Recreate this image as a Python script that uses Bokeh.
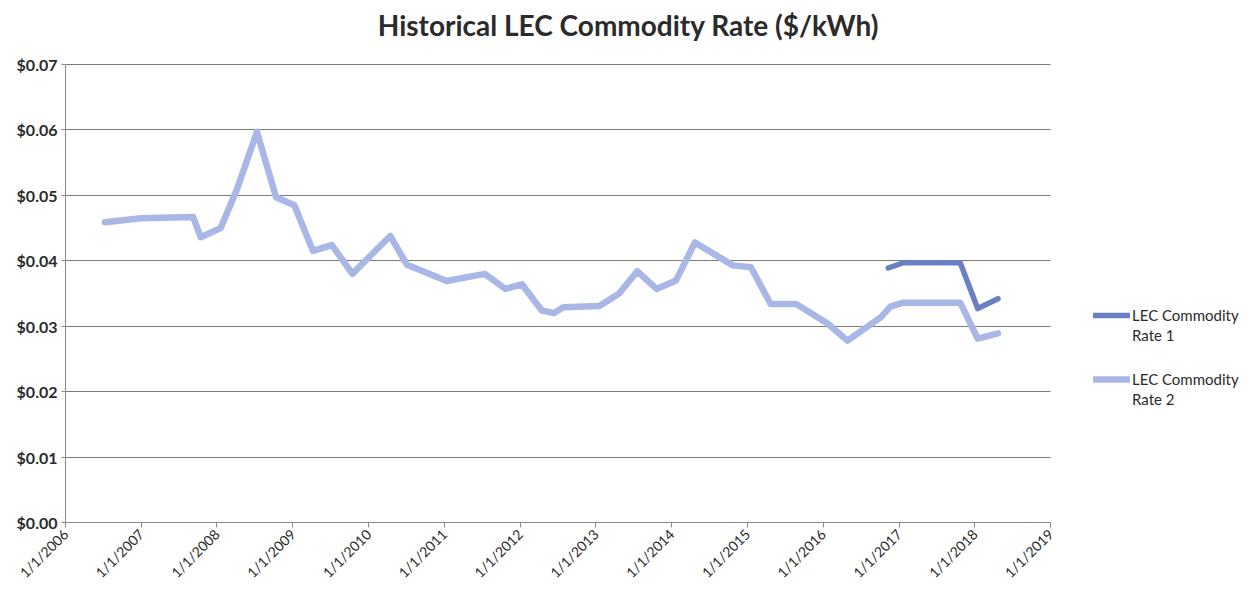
from datetime import datetime
from bokeh.plotting import figure
from bokeh.models import (ColumnDataSource, Range1d, FixedTicker, NumeralTickFormatter,
                          Legend, LegendItem, Label)
from bokeh.embed import file_html
from bokeh.resources import INLINE
import math

# ---------------- data ----------------
rate2_dates = ["2006-07-10", "2007-01-01", "2007-09-08", "2007-10-15", "2008-01-19",
               "2008-04-05", "2008-07-12", "2008-10-12", "2009-01-08", "2009-04-08",
               "2009-07-08", "2009-10-15", "2010-04-15", "2010-07-05", "2011-01-12",
               "2011-07-15", "2011-10-22", "2012-01-10", "2012-04-15", "2012-06-13",
               "2012-07-27", "2013-01-18", "2013-04-23", "2013-07-19", "2013-10-20",
               "2014-01-22", "2014-04-23", "2014-10-23", "2015-01-18", "2015-04-23",
               "2015-08-24", "2016-01-19", "2016-04-27", "2016-10-06", "2016-11-20",
               "2017-01-22", "2017-10-23", "2018-01-15", "2018-04-23"]
rate2_values = [0.0459, 0.0465, 0.0467, 0.0436, 0.0450,
                0.0508, 0.0597, 0.0497, 0.0485, 0.0415,
                0.0424, 0.0380, 0.0438, 0.0394, 0.0369,
                0.0380, 0.0357, 0.0364, 0.0324, 0.0320,
                0.0329, 0.0331, 0.0350, 0.0384, 0.0357,
                0.0370, 0.0428, 0.0393, 0.0390, 0.0334,
                0.0334, 0.0305, 0.0278, 0.0314, 0.0330,
                0.0336, 0.0336, 0.0281, 0.0289]

rate1_dates = ["2016-11-10", "2017-01-22", "2017-10-23", "2018-01-15", "2018-04-23"]
rate1_values = [0.0389, 0.0397, 0.0397, 0.0327, 0.0342]

tick_years = list(range(2006, 2020))
tick_labels = ["1/1/%d" % y for y in tick_years]
y_ticks = [0.0, 0.01, 0.02, 0.03, 0.04, 0.05, 0.06, 0.07]

series_line1 = ["LEC Commodity", "LEC Commodity"]
series_line2 = ["Rate 1", "Rate 2"]
title_text = "Historical LEC Commodity Rate ($/kWh)"

# ---------------- layout constants ----------------
W, H = 1248, 592
FRAME_L, FRAME_B = 65, 70          # borders for the axes
AX_RIGHT_PX = 1050                 # where the last x tick sits
AX_TOP_PX = 64                     # where the top y tick sits

def to_dt(s):
    return datetime.strptime(s, "%Y-%m-%d")

EPOCH = datetime(1970, 1, 1)
def ms(d):
    return (d - EPOCH).total_seconds() * 1000

x0 = ms(datetime(tick_years[0], 1, 1))
x1 = ms(datetime(tick_years[-1], 1, 1))
frame_w = W - FRAME_L
x_end = x0 + (x1 - x0) * frame_w / (AX_RIGHT_PX - FRAME_L)
frame_h = H - FRAME_B
y_top = y_ticks[-1]
y_end = y_top * frame_h / (frame_h - AX_TOP_PX)

src1 = ColumnDataSource(dict(x=[to_dt(d) for d in rate1_dates], y=rate1_values))
src2 = ColumnDataSource(dict(x=[to_dt(d) for d in rate2_dates], y=rate2_values))

p = figure(width=W, height=H, x_axis_type="datetime",
           x_range=Range1d(x0, x_end), y_range=Range1d(0, y_end),
           output_backend="svg", toolbar_location=None,
           min_border_left=FRAME_L, min_border_right=0, min_border_top=0,
           min_border_bottom=FRAME_B)

p.outline_line_color = None
p.background_fill_color = "white"
p.border_fill_color = "white"

FONT = "Lato"
TXT = "#2b2b2b"
C1 = "#6B80C4"
C2 = "#A8B7E6"

# lines
l2 = p.line("x", "y", source=src2, line_color=C2, line_width=6.5, line_join="round", line_cap="round")
l1 = p.line("x", "y", source=src1, line_color=C1, line_width=5.5, line_join="round", line_cap="round")
dummy = p.line(x=[], y=[], line_alpha=0)

# x axis
tick_ms = [ms(datetime(y, 1, 1)) for y in tick_years]
p.xaxis.ticker = FixedTicker(ticks=tick_ms)
p.xaxis.bounds = (x0, x1)
p.xaxis.major_label_overrides = {t: lab for t, lab in zip(tick_ms, tick_labels)}
p.xaxis.major_label_orientation = math.pi / 4
p.xaxis.minor_tick_line_color = None
p.xaxis.major_tick_out = 5
p.xaxis.major_tick_in = 0
p.xaxis.axis_line_color = "#8a8a8a"
p.xaxis.major_tick_line_color = "#8a8a8a"
p.xaxis.major_label_text_font = FONT
p.xaxis.major_label_text_font_size = "14px"
p.xaxis.major_label_text_color = TXT
p.xaxis.major_label_standoff = 4

# y axis
p.yaxis.ticker = FixedTicker(ticks=y_ticks)
p.yaxis.bounds = (0, y_top)
p.yaxis.formatter = NumeralTickFormatter(format="$0.00")
p.yaxis.minor_tick_line_color = None
p.yaxis.major_tick_out = 4
p.yaxis.major_tick_in = 0
p.yaxis.axis_line_color = "#8a8a8a"
p.yaxis.major_tick_line_color = "#8a8a8a"
p.yaxis.major_label_text_font = FONT
p.yaxis.major_label_text_font_size = "16px"
p.yaxis.major_label_text_font_style = "bold"
p.yaxis.major_label_text_color = TXT
p.yaxis.major_label_standoff = 4

# grid
p.xgrid.grid_line_color = None
p.ygrid.grid_line_color = "#7a7a7a"
p.ygrid.grid_line_width = 1
p.ygrid.cross_bounds = (x0, x1)

# title (inside the extended frame, above the plotting area)
title_x = x0 + (x1 - x0) * (628 - FRAME_L) / (AX_RIGHT_PX - FRAME_L)
p.add_layout(Label(x=title_x, y=frame_h - 24, x_units="data", y_units="screen",
                   text=title_text, text_align="center", text_baseline="middle",
                   text_font=FONT, text_font_size="28px", text_font_style="bold",
                   text_color=TXT))

# legends
def make_legend(i, renderer, bottom_px):
    lg = Legend(items=[LegendItem(label=series_line1[i], renderers=[renderer]),
                       LegendItem(label=series_line2[i], renderers=[dummy])],
                location=(1093 - FRAME_L, bottom_px))
    lg.border_line_color = None
    lg.background_fill_alpha = 0
    lg.label_text_font = FONT
    lg.label_text_font_size = "15px"
    lg.label_text_color = TXT
    lg.glyph_width = 37
    lg.glyph_height = 18
    lg.label_height = 18
    lg.label_standoff = 2
    lg.spacing = 2
    lg.margin = 0
    lg.padding = 0
    return lg

p.add_layout(make_legend(0, l1, frame_h - 344), "center")
p.add_layout(make_legend(1, l2, frame_h - 408), "center")

open("out.html", "w").write(file_html(p, INLINE))
